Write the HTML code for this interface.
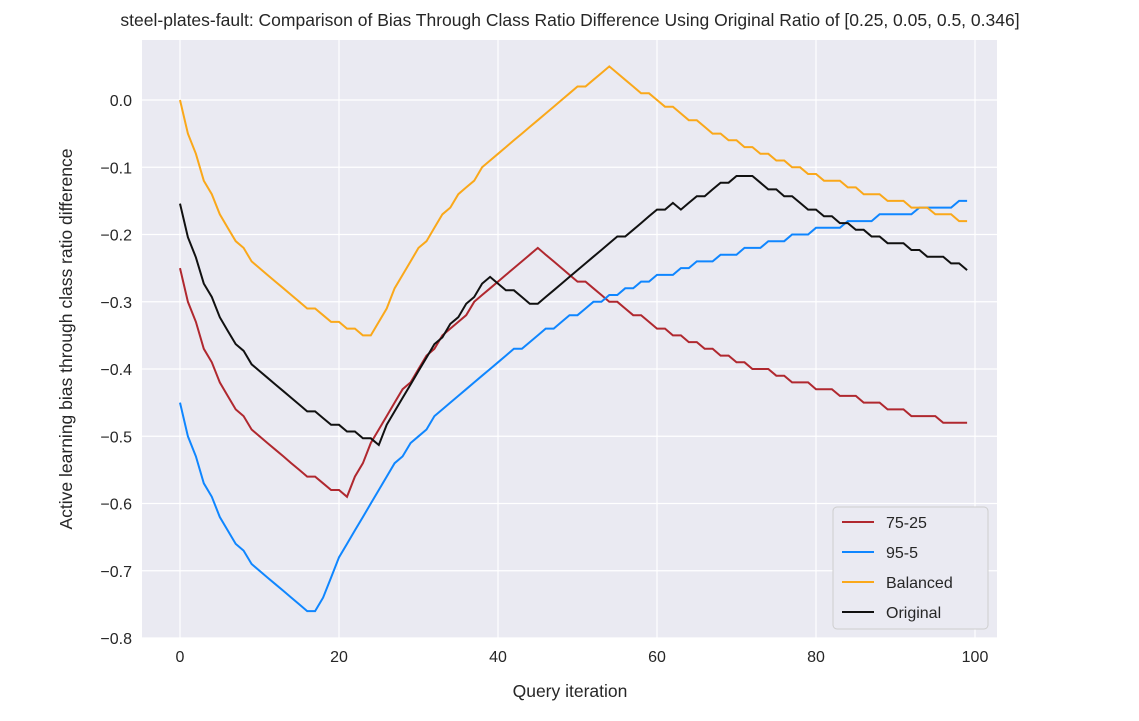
<!DOCTYPE html>
<html><head><meta charset="utf-8"><style>
body{margin:0;background:#fff;font-family:"Liberation Sans",Arial,sans-serif}
svg text{font-family:"Liberation Sans",Arial,sans-serif;fill:#262626}
</style></head><body>
<svg id="chart" width="1139" height="716" xmlns="http://www.w3.org/2000/svg">
<text x="570" y="26" text-anchor="middle" font-size="17.5">steel-plates-fault: Comparison of Bias Through Class Ratio Difference Using Original Ratio of [0.25, 0.05, 0.5, 0.346]</text>
<rect x="142" y="40" width="855" height="598" fill="#eaeaf2"/>
<g id="grid"></g><g id="ticks"></g><g id="lines"></g>
<text x="570" y="697" text-anchor="middle" font-size="17.5">Query iteration</text>
<text transform="translate(72,339) rotate(-90)" text-anchor="middle" font-size="17.5">Active learning bias through class ratio difference</text>
<g>
<rect x="833" y="507" width="155" height="122" rx="4" fill="#eaeaf2" stroke="#cccccc" opacity="0.95"/>
<g id="legend-items"></g>
</g>
</svg>
<script>
const xTicks=[0,20,40,60,80,100];
const yTicks=[0.0,-0.1,-0.2,-0.3,-0.4,-0.5,-0.6,-0.7,-0.8];
const yTickLabels=["0.0","\u22120.1","\u22120.2","\u22120.3","\u22120.4","\u22120.5","\u22120.6","\u22120.7","\u22120.8"];
const seriesNames=["75-25","95-5","Balanced","Original"];
const s7525=[-0.25,-0.30,-0.33,-0.37,-0.39,-0.42,-0.44,-0.46,-0.47,-0.49,-0.50,-0.51,-0.52,-0.53,-0.54,-0.55,-0.56,-0.56,-0.57,-0.58,-0.58,-0.59,-0.56,-0.54,-0.51,-0.49,-0.47,-0.45,-0.43,-0.42,-0.40,-0.38,-0.37,-0.35,-0.34,-0.33,-0.32,-0.30,-0.29,-0.28,-0.27,-0.26,-0.25,-0.24,-0.23,-0.22,-0.23,-0.24,-0.25,-0.26,-0.27,-0.27,-0.28,-0.29,-0.30,-0.30,-0.31,-0.32,-0.32,-0.33,-0.34,-0.34,-0.35,-0.35,-0.36,-0.36,-0.37,-0.37,-0.38,-0.38,-0.39,-0.39,-0.40,-0.40,-0.40,-0.41,-0.41,-0.42,-0.42,-0.42,-0.43,-0.43,-0.43,-0.44,-0.44,-0.44,-0.45,-0.45,-0.45,-0.46,-0.46,-0.46,-0.47,-0.47,-0.47,-0.47,-0.48,-0.48,-0.48,-0.48];
const s955=[-0.45,-0.50,-0.53,-0.57,-0.59,-0.62,-0.64,-0.66,-0.67,-0.69,-0.70,-0.71,-0.72,-0.73,-0.74,-0.75,-0.76,-0.76,-0.74,-0.71,-0.68,-0.66,-0.64,-0.62,-0.60,-0.58,-0.56,-0.54,-0.53,-0.51,-0.50,-0.49,-0.47,-0.46,-0.45,-0.44,-0.43,-0.42,-0.41,-0.40,-0.39,-0.38,-0.37,-0.37,-0.36,-0.35,-0.34,-0.34,-0.33,-0.32,-0.32,-0.31,-0.30,-0.30,-0.29,-0.29,-0.28,-0.28,-0.27,-0.27,-0.26,-0.26,-0.26,-0.25,-0.25,-0.24,-0.24,-0.24,-0.23,-0.23,-0.23,-0.22,-0.22,-0.22,-0.21,-0.21,-0.21,-0.20,-0.20,-0.20,-0.19,-0.19,-0.19,-0.19,-0.18,-0.18,-0.18,-0.18,-0.17,-0.17,-0.17,-0.17,-0.17,-0.16,-0.16,-0.16,-0.16,-0.16,-0.15,-0.15];
const sBalanced=[0.00,-0.05,-0.08,-0.12,-0.14,-0.17,-0.19,-0.21,-0.22,-0.24,-0.25,-0.26,-0.27,-0.28,-0.29,-0.30,-0.31,-0.31,-0.32,-0.33,-0.33,-0.34,-0.34,-0.35,-0.35,-0.33,-0.31,-0.28,-0.26,-0.24,-0.22,-0.21,-0.19,-0.17,-0.16,-0.14,-0.13,-0.12,-0.10,-0.09,-0.08,-0.07,-0.06,-0.05,-0.04,-0.03,-0.02,-0.01,0.00,0.01,0.02,0.02,0.03,0.04,0.05,0.04,0.03,0.02,0.01,0.01,0.00,-0.01,-0.01,-0.02,-0.03,-0.03,-0.04,-0.05,-0.05,-0.06,-0.06,-0.07,-0.07,-0.08,-0.08,-0.09,-0.09,-0.10,-0.10,-0.11,-0.11,-0.12,-0.12,-0.12,-0.13,-0.13,-0.14,-0.14,-0.14,-0.15,-0.15,-0.15,-0.16,-0.16,-0.16,-0.17,-0.17,-0.17,-0.18,-0.18];
const sOriginal=[-0.154,-0.204,-0.234,-0.273,-0.293,-0.323,-0.343,-0.363,-0.373,-0.393,-0.403,-0.413,-0.423,-0.433,-0.443,-0.453,-0.463,-0.463,-0.473,-0.483,-0.483,-0.493,-0.493,-0.503,-0.503,-0.513,-0.483,-0.463,-0.443,-0.423,-0.403,-0.383,-0.363,-0.353,-0.333,-0.323,-0.303,-0.293,-0.273,-0.263,-0.273,-0.283,-0.283,-0.293,-0.303,-0.303,-0.293,-0.283,-0.273,-0.263,-0.253,-0.243,-0.233,-0.223,-0.213,-0.203,-0.203,-0.193,-0.183,-0.173,-0.163,-0.163,-0.153,-0.163,-0.153,-0.143,-0.143,-0.133,-0.123,-0.123,-0.113,-0.113,-0.113,-0.123,-0.133,-0.133,-0.143,-0.143,-0.153,-0.163,-0.163,-0.173,-0.173,-0.183,-0.183,-0.193,-0.193,-0.203,-0.203,-0.213,-0.213,-0.213,-0.223,-0.223,-0.233,-0.233,-0.233,-0.243,-0.243,-0.253];
const NS="http://www.w3.org/2000/svg";
const X=v=>180+v*7.95;
const Y=v=>100-v*672.5;
function mk(tag,attrs,parent){const e=document.createElementNS(NS,tag);for(const k in attrs)e.setAttribute(k,attrs[k]);parent.appendChild(e);return e;}
const grid=document.getElementById('grid'),ticks=document.getElementById('ticks');
xTicks.forEach(t=>{
 const l=mk('line',{x1:X(t),x2:X(t),y1:40,y2:638,stroke:'#fff','stroke-width':1.2},grid);
 
 
 const tx=mk('text',{x:X(t),y:662,'text-anchor':'middle','font-size':16},ticks);
 
 
 tx.textContent=t;
});
yTicks.forEach((t,i)=>{
 const l=mk('line',{x1:142,x2:997,y1:Y(t),y2:Y(t),stroke:'#fff','stroke-width':1.2},grid);
 
 
 const tx=mk('text',{x:132,y:Y(t)+6,'text-anchor':'end','font-size':16},ticks);
 
 
 tx.textContent=yTickLabels[i];
});
const all=[s7525,s955,sBalanced,sOriginal];
const colors=['#b0282f','#0f86ff','#faa81a','#111111'];
const lines=document.getElementById('lines'),leg=document.getElementById('legend-items');
all.forEach((s,k)=>{
 const d=s.map((v,i)=>(i?'L':'M')+X(i).toFixed(1)+','+Y(v).toFixed(1)).join('');
 const p=mk('path',{d:d,fill:'none',stroke:colors[k],'stroke-width':2},lines);
 
 
 const yy=522+k*30;
 const g=mk('g',{},leg);
 
 
 mk('line',{x1:842,x2:874,y1:yy,y2:yy,stroke:colors[k],'stroke-width':2},g);
 const t=mk('text',{x:886,y:yy+6,'font-size':16},g);
 t.textContent=seriesNames[k];
});
</script>
</body></html>
